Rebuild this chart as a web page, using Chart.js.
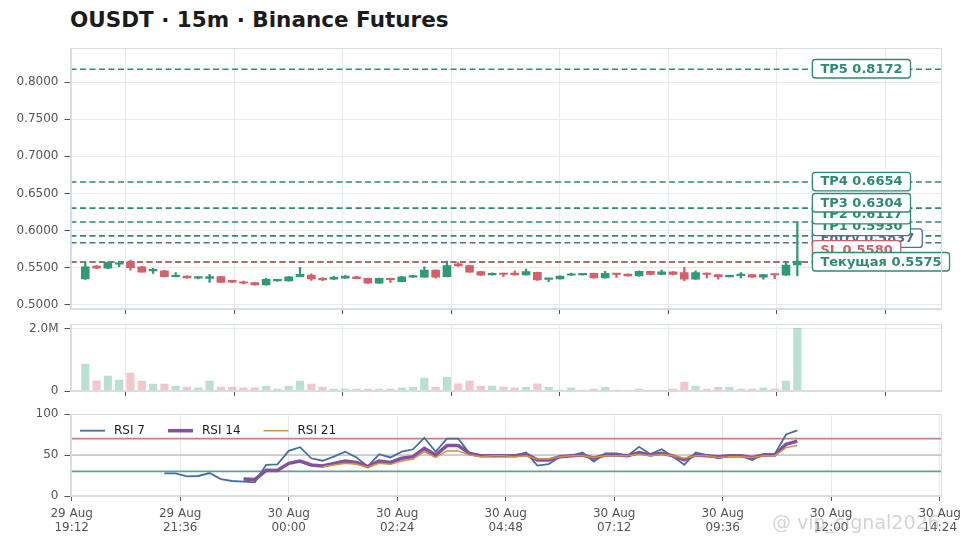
<!DOCTYPE html>
<html>
<head>
<meta charset="utf-8">
<title>OUSDT 15m</title>
<script src="https://cdn.jsdelivr.net/npm/chart.js@4.4.1/dist/chart.umd.min.js"></script>
<style>
  html, body { margin: 0; padding: 0; background: #fff; }
  #wrap { position: relative; width: 973px; height: 548px; overflow: hidden; font-family: 'DejaVu Sans', sans-serif; }
  #title { position: absolute; left: 70px; top: 9px; font-size: 21.5px; line-height: 22px; font-weight: bold; color: #1b1b1b; white-space: nowrap; }
  .panel { position: absolute; left: 0; width: 973px; }
  #wm { position: absolute; left: 772px; top: 510px; font-family: 'DejaVu Sans', sans-serif; font-size: 19px; line-height: 24px; color: rgba(160,160,160,0.45); white-space: nowrap; }
</style>
</head>
<body>
<div id="wrap">
  <div id="title">OUSDT · 15m · Binance Futures</div>
  <div class="panel" style="top:40px;height:276px"><canvas id="priceChart" width="973" height="276"></canvas></div>
  <div class="panel" style="top:316px;height:84px"><canvas id="volChart" width="973" height="84"></canvas></div>
  <div class="panel" style="top:405px;height:143px"><canvas id="rsiChart" width="973" height="143"></canvas></div>
  <div id="wm">@ vip_signal2026</div>
</div>
<script>
// время свечей (день месяца + чч:мм), шаг 15 минут
const candleTimes = [
  '29 19:30','29 19:45','29 20:00','29 20:15','29 20:30','29 20:45','29 21:00','29 21:15','29 21:30','29 21:45',
  '29 22:00','29 22:15','29 22:30','29 22:45','29 23:00','29 23:15','29 23:30','29 23:45',
  '30 00:00','30 00:15','30 00:30','30 00:45','30 01:00','30 01:15','30 01:30','30 01:45',
  '30 02:00','30 02:15','30 02:30','30 02:45','30 03:00','30 03:15','30 03:30','30 03:45',
  '30 04:00','30 04:15','30 04:30','30 04:45','30 05:00','30 05:15','30 05:30','30 05:45',
  '30 06:00','30 06:15','30 06:30','30 06:45','30 07:00','30 07:15','30 07:30','30 07:45',
  '30 08:00','30 08:15','30 08:30','30 08:45','30 09:00','30 09:15','30 09:30','30 09:45',
  '30 10:00','30 10:15','30 10:30','30 10:45','30 11:00','30 11:15'
];

const opens = [
  0.5350,0.5525,0.5494,0.5548,0.5580,0.5515,0.5458,0.5461,0.5380,0.5390,
  0.5362,0.5359,0.5381,0.5332,0.5313,0.5300,0.5270,0.5324,0.5325,0.5381,
  0.5404,0.5359,0.5348,0.5360,0.5380,0.5358,0.5293,0.5358,0.5315,0.5375,
  0.5375,0.5470,0.5380,0.5555,0.5530,0.5448,0.5405,0.5425,0.5430,0.5405,
  0.5440,0.5345,0.5350,0.5400,0.5405,0.5425,0.5365,0.5418,0.5417,0.5390,
  0.5453,0.5410,0.5445,0.5435,0.5346,0.5430,0.5410,0.5378,0.5395,0.5408,
  0.5375,0.5410,0.5400,0.5538
];
const highs = [
  0.5582,0.5535,0.5580,0.5582,0.5605,0.5520,0.5494,0.5465,0.5435,0.5392,
  0.5382,0.5413,0.5385,0.5336,0.5322,0.5304,0.5360,0.5340,0.5384,0.5507,
  0.5420,0.5370,0.5385,0.5395,0.5386,0.5362,0.5362,0.5362,0.5384,0.5398,
  0.5515,0.5474,0.5590,0.5570,0.5534,0.5452,0.5432,0.5428,0.5460,0.5484,
  0.5444,0.5362,0.5394,0.5430,0.5425,0.5428,0.5453,0.5422,0.5420,0.5458,
  0.5456,0.5470,0.5448,0.5507,0.5460,0.5434,0.5414,0.5394,0.5435,0.5412,
  0.5412,0.5414,0.5580,0.6117
];
const lows = [
  0.5345,0.5488,0.5490,0.5515,0.5470,0.5440,0.5426,0.5378,0.5376,0.5360,
  0.5352,0.5305,0.5302,0.5300,0.5285,0.5265,0.5268,0.5320,0.5322,0.5378,
  0.5330,0.5326,0.5340,0.5356,0.5350,0.5290,0.5290,0.5305,0.5312,0.5372,
  0.5372,0.5360,0.5378,0.5520,0.5438,0.5398,0.5402,0.5382,0.5400,0.5402,
  0.5330,0.5313,0.5348,0.5398,0.5402,0.5362,0.5362,0.5370,0.5388,0.5388,
  0.5406,0.5408,0.5406,0.5327,0.5344,0.5365,0.5346,0.5376,0.5365,0.5372,
  0.5346,0.5355,0.5398,0.5390
];
const closes = [
  0.5515,0.5495,0.5574,0.5562,0.5502,0.5442,0.5470,0.5381,0.5392,0.5363,
  0.5373,0.5381,0.5305,0.5306,0.5293,0.5270,0.5346,0.5336,0.5380,0.5412,
  0.5350,0.5338,0.5372,0.5390,0.5355,0.5293,0.5358,0.5340,0.5380,0.5394,
  0.5470,0.5375,0.5530,0.5525,0.5440,0.5402,0.5425,0.5410,0.5406,0.5448,
  0.5336,0.5358,0.5390,0.5413,0.5421,0.5365,0.5425,0.5410,0.5390,0.5453,
  0.5410,0.5445,0.5410,0.5346,0.5435,0.5410,0.5380,0.5390,0.5410,0.5375,
  0.5408,0.5404,0.5538,0.5590
];
const volumes = [
  870000,330000,480000,350000,580000,320000,220000,220000,160000,130000,
  100000,320000,130000,130000,100000,100000,160000,60000,160000,320000,
  220000,130000,60000,60000,60000,60000,60000,60000,100000,120000,
  420000,120000,440000,230000,320000,160000,160000,130000,100000,120000,
  230000,120000,30000,100000,30000,60000,120000,30000,30000,60000,
  30000,30000,60000,290000,160000,60000,120000,120000,60000,60000,
  100000,60000,320000,2020000
];

const rsi7 = [
  null,null,null,null,null,null,null,27.7,27.7,24,
  24.4,28,20.7,18.3,17.5,16.7,38,38.5,55,59.5,
  46,43,48,54,47,36,51,47,54,57,
  71,54,70,70,52,49,50,50,49,53,
  37,39,48,49,53,42,52,52,49,60,
  51,57,48,38,53,50,46,49,49,44,
  51,51,75,80
];
const rsi14 = [
  null,null,null,null,null,null,null,null,null,null,
  null,null,null,null,20.7,20,31.3,31,39.8,42.7,
  37.8,36.6,39.8,42.7,41,35.8,42.7,41,46,48,
  58,50,61.5,61.5,52,49,49,49,49,51,
  44,44,48,49,50,46,50,50,49,53,
  50,52,49,44,50,49,48,49,49,47,
  50,50,63,67
];
const rsi21 = [
  null,null,null,null,null,null,null,null,null,null,
  null,null,null,null,null,null,null,null,null,null,
  null,35.8,37.8,39.8,38.6,35,39.8,38.6,42.7,45,
  54,47,55,55,50,48,49,49,48,49,
  45,45,48,49,49,47,49,49,49,51,
  49,51,49,46,49,49,47,48,48,47,
  49,49,59,61.5
];

// уровни сделки
const levelNames = ['TP5', 'TP4', 'TP3', 'TP2', 'TP1', 'Entry', 'SL', 'Текущая'];
const levelValues = [0.8172, 0.6654, 0.6304, 0.6117, 0.5930, 0.5837, 0.5580, 0.5575];

// метки осей
const xTickTimes = ['29 19:12','29 21:36','30 00:00','30 02:24','30 04:48','30 07:12','30 09:36','30 12:00','30 14:24'];
const xTickLabels = [
  ['29 Aug','19:12'],['29 Aug','21:36'],['30 Aug','00:00'],['30 Aug','02:24'],['30 Aug','04:48'],
  ['30 Aug','07:12'],['30 Aug','09:36'],['30 Aug','12:00'],['30 Aug','14:24']
];
const priceTicks = [0.50, 0.55, 0.60, 0.65, 0.70, 0.75, 0.80];
const volTicks = [0, 2000000];
const rsiTicks = [0, 50, 100];
const rsiLevels = [70, 50, 30];

// перевод "дд чч:мм" в минуты от 29 Aug 00:00
function toMin(s) {
  const [d, hm] = s.split(' ');
  const [h, m] = hm.split(':').map(Number);
  return (Number(d) - 29) * 1440 + h * 60 + m;
}

const tMin = candleTimes.map(toMin);
const xTicksMin = xTickTimes.map(toMin);
const X_MIN = 1150.4, X_MAX = 2305.7;
const LABEL_X = tMin[tMin.length - 1] + 20;

const GREEN = '#2f9a78', RED = '#d65f6a';
const GREEN_LIGHT = 'rgba(47,154,120,0.32)', RED_LIGHT = 'rgba(214,95,106,0.35)';
const GRID = '#e6ebf1', FRAME = '#d6dde5', TICK = '#555', TXT = '#555';
const FONT = "'DejaVu Sans', sans-serif";

const isUp = opens.map((o, i) => closes[i] >= o);

Chart.defaults.font.family = FONT;
Chart.defaults.font.size = 12;
Chart.defaults.color = TXT;

// рамка вокруг области графика
const framePlugin = {
  id: 'frame',
  afterDraw(chart) {
    const a = chart.chartArea, ctx = chart.ctx;
    ctx.save();
    ctx.strokeStyle = FRAME;
    ctx.lineWidth = 1;
    ctx.strokeRect(Math.round(a.left) + 0.5, Math.round(a.top) + 0.5,
      Math.round(a.right - a.left) - 1, Math.round(a.bottom - a.top) - 1);
    ctx.restore();
  }
};

function levelColor(name) {
  if (name === 'Entry') return '#4b6fa0';
  if (name === 'SL') return '#d05f68';
  return '#2e8b6f';
}

// подписи уровней справа, раздвигаются снизу вверх
const levelLabelPlugin = {
  id: 'levelLabels',
  afterDatasetsDraw(chart) {
    const ctx = chart.ctx, ys = chart.scales.y, xs = chart.scales.x;
    const x0 = xs.getPixelForValue(LABEL_X);
    const order = levelValues.map((v, i) => i).sort((a, b) => levelValues[a] - levelValues[b]);
    const pos = [];
    let prev = Infinity;
    order.forEach(i => {
      let y = ys.getPixelForValue(levelValues[i]) - 0.5;
      if (y > prev - 11.8) y = prev - 11.8;
      pos[i] = y;
      prev = y;
    });
    const drawOrder = ['Entry', 'SL', 'TP1', 'TP2', 'TP3', 'TP4', 'TP5', 'Текущая'];
    ctx.save();
    ctx.font = 'bold 13px ' + FONT;
    ctx.textBaseline = 'middle';
    drawOrder.forEach(name => {
      const i = levelNames.indexOf(name);
      const text = name + ' ' + levelValues[i].toFixed(4);
      const w = ctx.measureText(text).width + 16;
      const h = 18.5;
      const y = pos[i];
      const col = levelColor(name);
      ctx.beginPath();
      ctx.roundRect(x0, y - h / 2, w, h, 3);
      ctx.fillStyle = '#fff';
      ctx.fill();
      ctx.lineWidth = 1.3;
      ctx.strokeStyle = col;
      ctx.stroke();
      ctx.fillStyle = col;
      ctx.fillText(text, x0 + 8, y + 0.5);
    });
    ctx.restore();
  }
};

// легенда RSI внутри панели
const rsiLegendPlugin = {
  id: 'rsiLegend',
  afterDraw(chart) {
    const ctx = chart.ctx, a = chart.chartArea;
    const y = a.top + 16.7;
    let x = a.left + 9.5;
    ctx.save();
    ctx.font = '12px ' + FONT;
    ctx.textBaseline = 'middle';
    chart.data.datasets.filter(d => d.label && d.label.indexOf('RSI') === 0).forEach(d => {
      ctx.beginPath();
      ctx.moveTo(x, y);
      ctx.lineTo(x + 25, y);
      ctx.strokeStyle = d.borderColor;
      ctx.lineWidth = d.borderWidth;
      ctx.stroke();
      ctx.fillStyle = '#222';
      ctx.fillText(d.label, x + 34, y + 0.5);
      x += 34 + ctx.measureText(d.label).width + 23;
    });
    ctx.restore();
  }
};

function xScale(showLabels, height) {
  return {
    type: 'linear',
    min: X_MIN,
    max: X_MAX,
    offset: false,
    afterBuildTicks: s => { s.ticks = xTicksMin.map(v => ({ value: v })); },
    afterFit: s => { s.height = height; s.paddingLeft = 0; s.paddingRight = 0; },
    grid: { color: GRID, tickColor: TICK, tickLength: 5, drawTicks: true },
    border: { display: true, color: FRAME },
    ticks: {
      autoSkip: false,
      maxRotation: 0,
      padding: 6,
      color: TXT,
      font: { size: 12, lineHeight: 1.17 },
      callback: (v, i) => showLabels ? xTickLabels[i] : ''
    }
  };
}

function yScale(min, max, ticks, fmt) {
  return {
    type: 'linear',
    min: min,
    max: max,
    afterBuildTicks: s => { s.ticks = ticks.map(v => ({ value: v })); },
    afterFit: s => { s.width = 70.5; s.paddingTop = 0; s.paddingBottom = 0; },
    grid: { color: GRID, tickColor: TICK, tickLength: 6, drawTicks: true },
    border: { display: true, color: FRAME },
    ticks: { padding: 6, color: TXT, font: { size: 12 }, callback: fmt }
  };
}

const baseOpts = {
  responsive: false,
  animation: false,
  events: [],
  plugins: { legend: { display: false }, tooltip: { enabled: false } }
};

// --- цена ---
const levelDatasets = levelNames.map((name, i) => ({
  type: 'line',
  label: name,
  data: [{ x: X_MIN, y: levelValues[i] }, { x: X_MAX, y: levelValues[i] }],
  borderColor: levelColor(name),
  borderWidth: 1.6,
  borderDash: [6, 3.5],
  pointRadius: 0,
  order: 3
}));

new Chart(document.getElementById('priceChart'), {
  type: 'bar',
  data: {
    datasets: [
      {
        label: 'wick',
        data: tMin.map((t, i) => ({ x: t, y: [lows[i], highs[i]] })),
        backgroundColor: isUp.map(u => u ? GREEN : RED),
        barThickness: 1.6,
        grouped: false,
        order: 2
      },
      {
        label: 'body',
        data: tMin.map((t, i) => ({ x: t, y: [opens[i], closes[i]] })),
        backgroundColor: isUp.map(u => u ? GREEN : RED),
        barThickness: 8,
        minBarLength: 1.5,
        grouped: false,
        order: 1
      },
      ...levelDatasets
    ]
  },
  options: {
    ...baseOpts,
    layout: { padding: { top: 8.3, right: 32, bottom: 0, left: 0 } },
    scales: {
      x: xScale(false, 7),
      y: yScale(0.4946, 0.8454, priceTicks, v => v.toFixed(4))
    }
  },
  plugins: [framePlugin, levelLabelPlugin]
});

// --- объём ---
new Chart(document.getElementById('volChart'), {
  type: 'bar',
  data: {
    datasets: [{
      label: 'volume',
      data: tMin.map((t, i) => ({ x: t, y: volumes[i] })),
      backgroundColor: isUp.map(u => u ? GREEN_LIGHT : RED_LIGHT),
      barThickness: 7.5,
      grouped: false
    }]
  },
  options: {
    ...baseOpts,
    layout: { padding: { top: 8, right: 32, bottom: 2, left: 0 } },
    scales: {
      x: xScale(false, 7),
      y: yScale(0, 2161000, volTicks, v => v === 0 ? '0' : (v / 1e6).toFixed(1) + 'M')
    }
  },
  plugins: [framePlugin]
});

// --- RSI ---
const rsiLevelColors = ['#cc7f80', '#9fb0b5', '#63a096'];
const rsiLevelWidths = [1.6, 1.2, 1.8];

new Chart(document.getElementById('rsiChart'), {
  type: 'line',
  data: {
    datasets: [
      ...rsiLevels.map((v, i) => ({
        label: 'lvl' + v,
        data: [{ x: X_MIN, y: v }, { x: X_MAX, y: v }],
        borderColor: rsiLevelColors[i],
        borderWidth: rsiLevelWidths[i],
        pointRadius: 0,
        order: 5
      })),
      {
        label: 'RSI 7',
        data: tMin.map((t, i) => ({ x: t, y: rsi7[i] })),
        borderColor: '#44709c',
        borderWidth: 1.8,
        pointRadius: 0,
        order: 3
      },
      {
        label: 'RSI 14',
        data: tMin.map((t, i) => ({ x: t, y: rsi14[i] })),
        borderColor: '#82519f',
        borderWidth: 3.5,
        pointRadius: 0,
        order: 2
      },
      {
        label: 'RSI 21',
        data: tMin.map((t, i) => ({ x: t, y: rsi21[i] })),
        borderColor: '#d4903f',
        borderWidth: 1.5,
        pointRadius: 0,
        order: 1
      }
    ]
  },
  options: {
    ...baseOpts,
    layout: { padding: { top: 9, right: 32, bottom: 0, left: 0 } },
    scales: {
      x: xScale(true, 52),
      y: yScale(0, 100, rsiTicks, v => String(v))
    }
  },
  plugins: [framePlugin, rsiLegendPlugin]
});
</script>
</body>
</html>
